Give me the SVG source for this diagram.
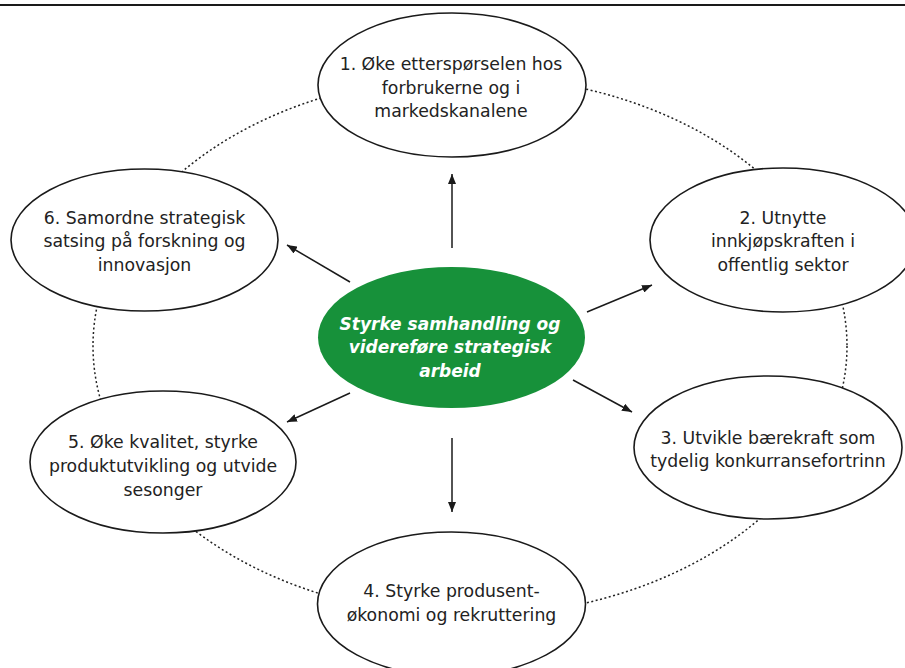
<svg xmlns="http://www.w3.org/2000/svg" width="905" height="668" viewBox="0 0 905 668">
  <defs>
    <marker id="arrow" markerUnits="userSpaceOnUse" markerWidth="10" markerHeight="8" refX="10" refY="4" orient="auto">
      <path d="M0,0 L10,4 L0,8 z" fill="#1a1a1a"/>
    </marker>
    <style>
      .node { fill: #ffffff; stroke: #1a1a1a; stroke-width: 1.6; }
      .center { fill: #17913a; stroke: none; }
      .lbl { font-family: "DejaVu Sans", Verdana, sans-serif; font-size: 17.3px; fill: #222222; text-anchor: middle; }
      .clbl { font-family: "DejaVu Sans", Verdana, sans-serif; font-size: 17px; font-weight: bold; font-style: italic; fill: #ffffff; text-anchor: middle; }
      .conn { stroke: #1a1a1a; stroke-width: 1.5; fill: none; marker-end: url(#arrow); }
      .ring { fill: none; stroke: #222222; stroke-width: 1.5; stroke-dasharray: 2 2.5; }
    </style>
  </defs>
  <rect x="0" y="0" width="905" height="668" fill="#ffffff"/>
  <line x1="0" y1="5" x2="905" y2="5" stroke="#1a1a1a" stroke-width="2"/>

  <ellipse class="ring" cx="470" cy="346" rx="377" ry="270"/>

  <g id="connectors">
    <line class="conn" x1="452" y1="248" x2="452" y2="174"/>
    <line class="conn" x1="350" y1="282" x2="287" y2="245"/>
    <line class="conn" x1="587" y1="312" x2="652" y2="285"/>
    <line class="conn" x1="573" y1="380" x2="632" y2="412"/>
    <line class="conn" x1="350" y1="393" x2="287" y2="422"/>
    <line class="conn" x1="452" y1="438" x2="452" y2="512"/>
  </g>

  <g id="node1">
    <ellipse class="node" cx="452" cy="85" rx="134" ry="72"/>
    <text class="lbl" x="451" y="70">1. Øke etterspørselen hos</text>
    <text class="lbl" x="451" y="94">forbrukerne og i</text>
    <text class="lbl" x="451" y="117">markedskanalene</text>
  </g>

  <g id="node2">
    <ellipse class="node" cx="783" cy="240" rx="133" ry="72"/>
    <text class="lbl" x="783" y="224">2. Utnytte</text>
    <text class="lbl" x="783" y="247">innkjøpskraften i</text>
    <text class="lbl" x="783" y="271">offentlig sektor</text>
  </g>

  <g id="node3">
    <ellipse class="node" cx="768" cy="447.5" rx="134" ry="71.5"/>
    <text class="lbl" x="768" y="444">3. Utvikle bærekraft som</text>
    <text class="lbl" x="768" y="467">tydelig konkurransefortrinn</text>
  </g>

  <g id="node4">
    <ellipse class="node" cx="451.5" cy="604" rx="134" ry="72"/>
    <text class="lbl" x="451.5" y="597">4. Styrke produsent-</text>
    <text class="lbl" x="451.5" y="621">økonomi og rekruttering</text>
  </g>

  <g id="node5">
    <ellipse class="node" cx="163" cy="462" rx="133" ry="71"/>
    <text class="lbl" x="163" y="448">5. Øke kvalitet, styrke</text>
    <text class="lbl" x="163" y="472">produktutvikling og utvide</text>
    <text class="lbl" x="163" y="496">sesonger</text>
  </g>

  <g id="node6">
    <ellipse class="node" cx="144.5" cy="240" rx="133.5" ry="71"/>
    <text class="lbl" x="144.5" y="224">6. Samordne strategisk</text>
    <text class="lbl" x="144.5" y="247">satsing på forskning og</text>
    <text class="lbl" x="144.5" y="271">innovasjon</text>
  </g>

  <g id="center">
    <ellipse class="center" cx="451.5" cy="337.5" rx="133.5" ry="70.5"/>
    <text class="clbl" x="450" y="330">Styrke samhandling og</text>
    <text class="clbl" x="450" y="353">videreføre strategisk</text>
    <text class="clbl" x="450" y="377">arbeid</text>
  </g>
</svg>
